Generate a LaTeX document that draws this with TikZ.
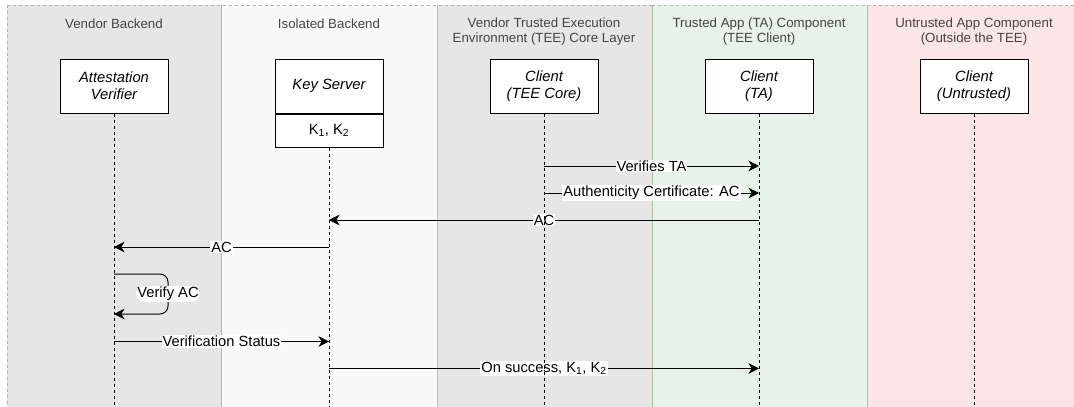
\documentclass[tikz,border=0pt]{standalone}
\usepackage{fontspec}
\setmainfont{Liberation Sans}
\usetikzlibrary{arrows.meta}

\definecolor{laneGray}{HTML}{E6E6E6}
\definecolor{laneLight}{HTML}{F9F9F9}
\definecolor{laneGreen}{HTML}{E7F2E8}
\definecolor{laneRed}{HTML}{FBE5E5}
\definecolor{edgeGray}{HTML}{B0B0B0}
\definecolor{edgeGreen}{HTML}{9CCB9C}
\definecolor{edgeRed}{HTML}{E29C9B}
\definecolor{titleGray}{HTML}{454545}

\tikzset{
  actor/.style={draw=black, fill=white, line width=1pt, minimum width=108pt,
    minimum height=54pt, inner sep=0pt, align=center,
    font=\fontsize{14.8pt}{16.7pt}\selectfont\itshape},
  compartment/.style={draw=black, fill=white, line width=1pt, minimum width=108pt,
    minimum height=33pt, inner sep=0pt, anchor=north,
    font=\fontsize{14.8pt}{16.7pt}\selectfont},
  lanetitle/.style={text=titleGray, align=center,
    font=\fontsize{13.3pt}{15.4pt}\selectfont},
  lifeline/.style={draw=black, line width=1pt, dash pattern=on 3pt off 3pt},
  msg/.style={draw=black, line width=1pt,
    -{Stealth[length=10.5pt, width=10.5pt, inset=3.2pt]}},
  lbl/.style={fill=white, inner sep=1pt, text=black,
    font=\fontsize{14.7pt}{16pt}\selectfont},
  laneborder/.style={line width=0.8pt, dash pattern=on 3pt off 3pt},
}

\begin{document}
\begin{tikzpicture}[x=1pt, y=-1pt]
\useasboundingbox (0,0) rectangle (1074,407);
\clip (0,0) rectangle (1074,407);

% swimlane backgrounds
\fill[laneGray]  (7,5)   rectangle (221,420);
\fill[laneLight] (221,5) rectangle (437,420);
\fill[laneGray]  (437,5) rectangle (652,420);
\fill[laneGreen] (652,5) rectangle (867,420);
\fill[laneRed]   (867,5) rectangle (1082,420);

% swimlane borders
\draw[laneborder, edgeGray]  (7,5) -- (652,5);
\draw[laneborder, edgeGreen] (652,5) -- (867,5);
\draw[laneborder, edgeRed]   (867,5) -- (1082,5);
\draw[laneborder, edgeGray]  (7,5) -- (7,420);
\draw[line width=0.8pt, edgeGray] (221,5) -- (221,420);
\draw[line width=0.8pt, edgeGray!80] (437,5) -- (437,420);
\draw[laneborder, edgeGray]  (652,5) -- (652,420);
\draw[laneborder, edgeGreen, dash phase=3pt] (652,5) -- (652,420);
\draw[laneborder, edgeGreen] (867,5) -- (867,420);
\draw[laneborder, edgeRed, dash phase=3pt] (867,5) -- (867,420);

% lane titles
\node[lanetitle] (t1) at (114,23.5) {Vendor Backend};
\node[lanetitle] (t2) at (329,23.5) {Isolated Backend};
\node[lanetitle] (t3) at (544,31.7) {Vendor Trusted Execution\\Environment (TEE) Core Layer};
\node[lanetitle] (t4) at (759,31.7) {Trusted App (TA) Component\\(TEE Client)};
\node[lanetitle] (t5) at (974,31.7) {Untrusted App Component\\(Outside the TEE)};

% participants
\node[actor] (av)  at (114,86) {Attestation\\Verifier};
\node[actor] (ks)  at (329,86) {Key Server};
\node[compartment] (kk) at (ks.south) {K\textsubscript{1}, K\textsubscript{2}};
\node[actor] (tee) at (544,86) {Client\\(TEE Core)};
\node[actor] (ta)  at (759,86) {Client\\(TA)};
\node[actor] (ut)  at (974,86) {Client\\(Untrusted)};

% message rows
\coordinate (r1) at (0,166);
\coordinate (r2) at (0,193);
\coordinate (r3) at (0,220);
\coordinate (r4) at (0,247);
\coordinate (r5) at (0,274);
\coordinate (r6) at (0,314);
\coordinate (r7) at (0,341.5);
\coordinate (r8) at (0,368.5);
\coordinate (bottom) at (0,412);

% messages
\draw[msg] (tee |- r1) -- node[lbl] {Verifies TA} (ta |- r1);
\draw[msg] (tee |- r2) -- node[lbl] {Authenticity Certificate: AC} (ta |- r2);
\draw[msg] (ta |- r3) -- node[lbl] {AC} (ks |- r3);
\draw[msg] (ks |- r4) -- node[lbl] {AC} (av |- r4);
\draw[msg, rounded corners=8pt] (av |- r5) -- ++(54,0)
  -- node[lbl] {Verify AC} ++(0,40) -- (av |- r6);
\draw[msg] (av |- r7) -- node[lbl] {Verification Status} (ks |- r7);
\draw[msg] (ks |- r8) -- node[lbl] {On success, K\textsubscript{1}, K\textsubscript{2}} (ta |- r8);

% lifelines
\draw[lifeline] (av.south) -- (av.south |- bottom);
\draw[lifeline] (kk.south) -- (kk.south |- bottom);
\draw[lifeline] (tee.south) -- (tee.south |- bottom);
\draw[lifeline] (ta.south) -- (ta.south |- bottom);
\draw[lifeline] (ut.south) -- (ut.south |- bottom);
\end{tikzpicture}
\end{document}
